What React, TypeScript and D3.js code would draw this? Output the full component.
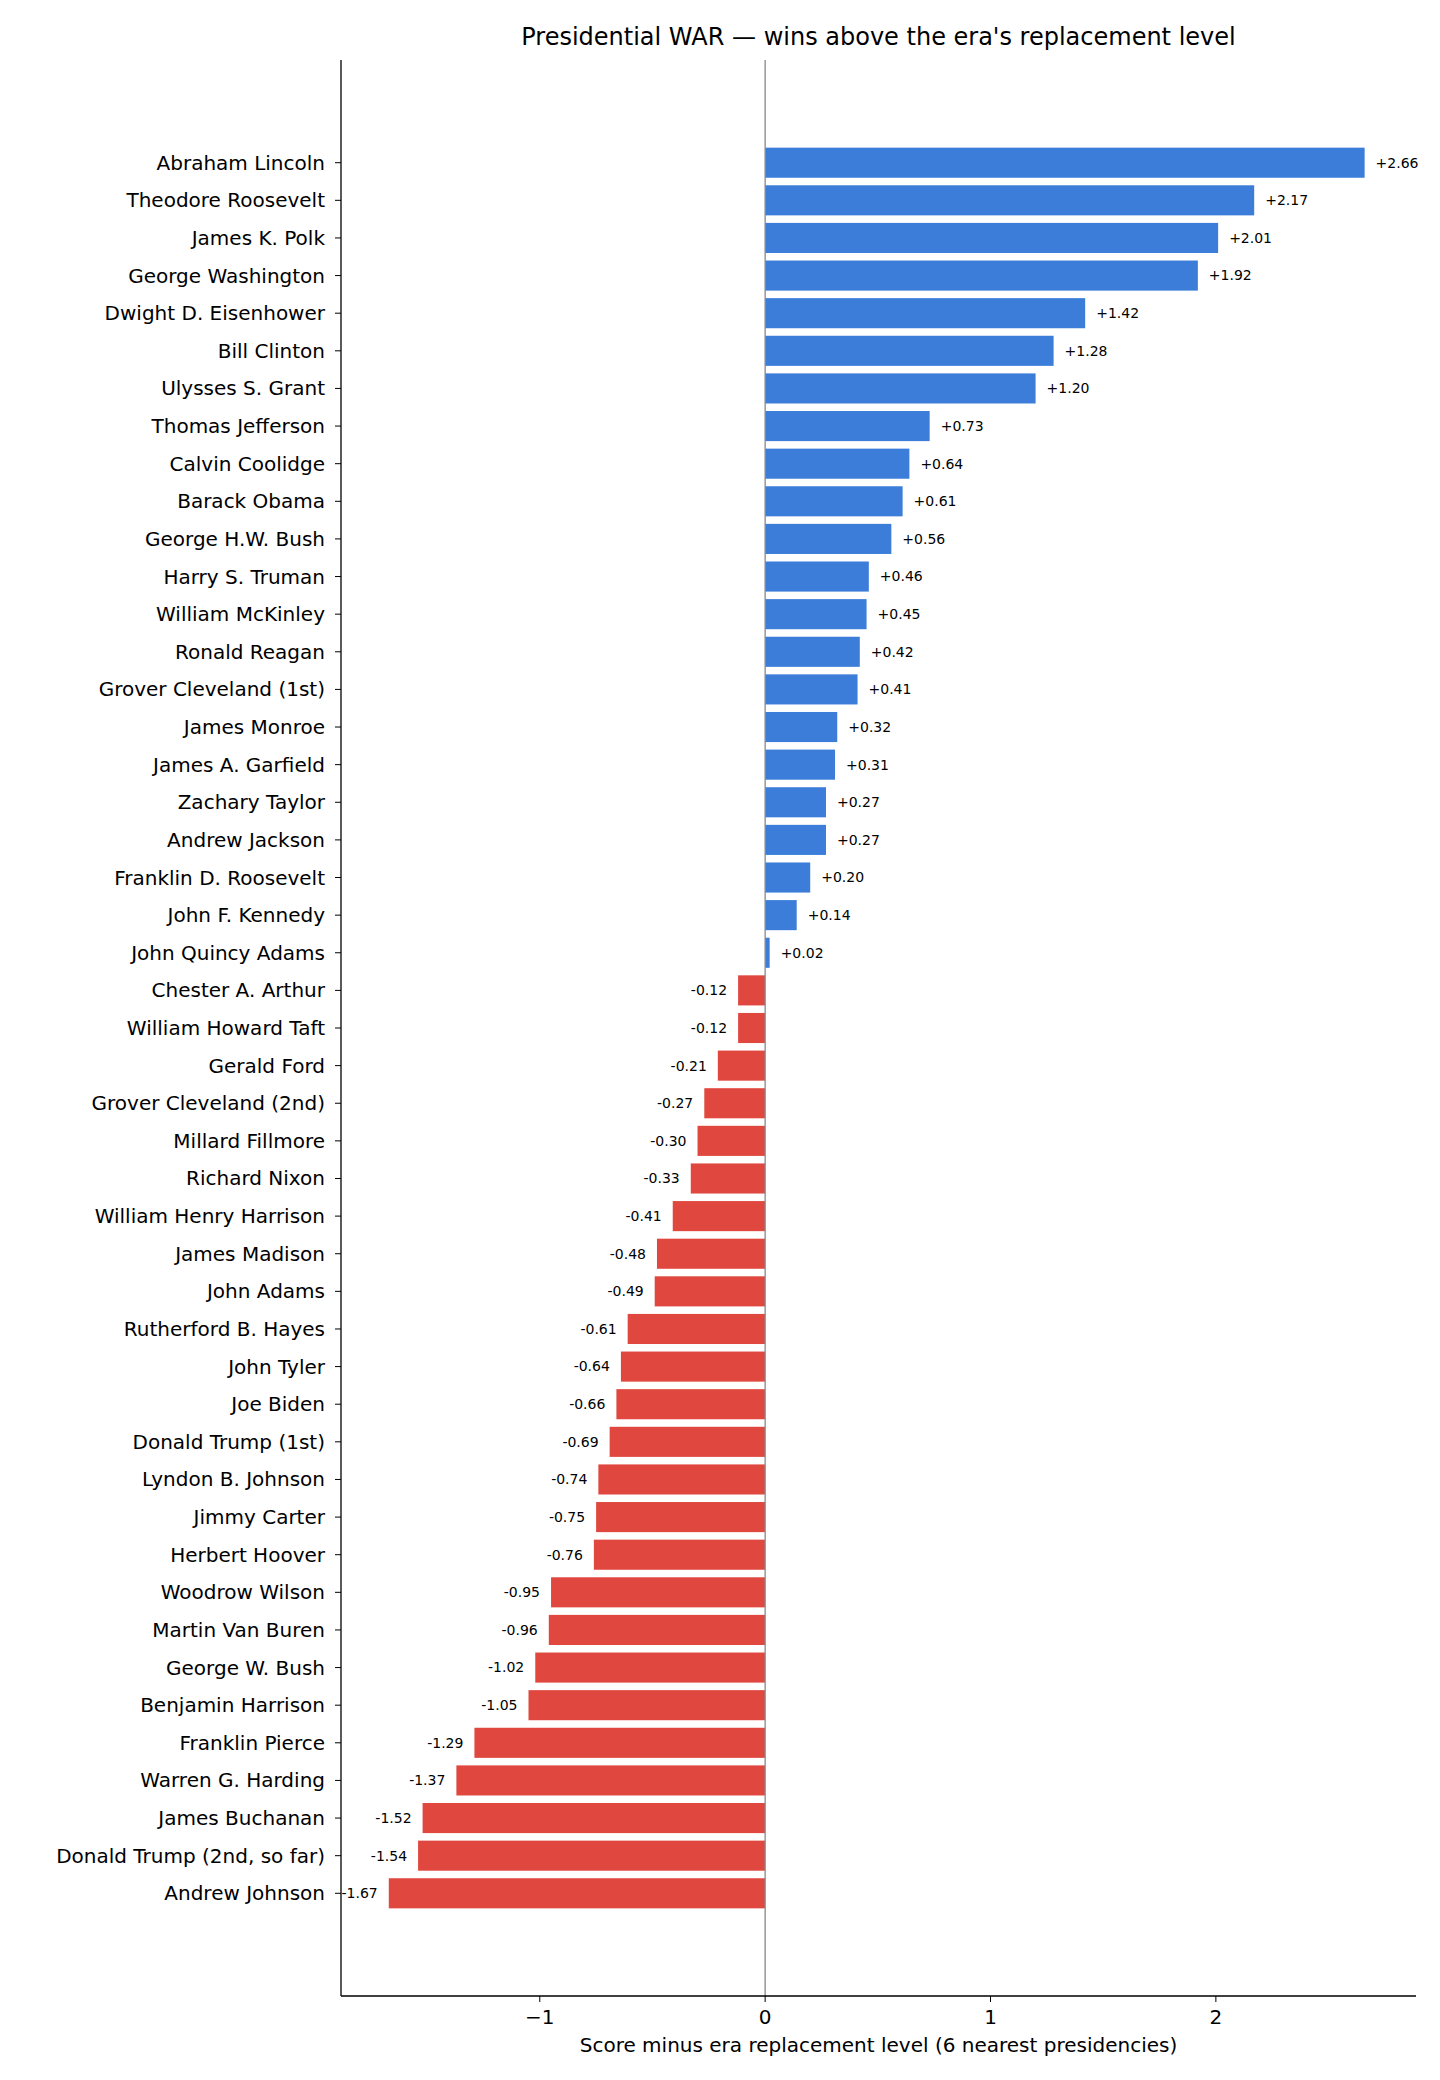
import React from "react";
import * as d3 from "d3";

const names = ["Abraham Lincoln","Theodore Roosevelt","James K. Polk","George Washington","Dwight D. Eisenhower","Bill Clinton","Ulysses S. Grant","Thomas Jefferson","Calvin Coolidge","Barack Obama","George H.W. Bush","Harry S. Truman","William McKinley","Ronald Reagan","Grover Cleveland (1st)","James Monroe","James A. Garfield","Zachary Taylor","Andrew Jackson","Franklin D. Roosevelt","John F. Kennedy","John Quincy Adams","Chester A. Arthur","William Howard Taft","Gerald Ford","Grover Cleveland (2nd)","Millard Fillmore","Richard Nixon","William Henry Harrison","James Madison","John Adams","Rutherford B. Hayes","John Tyler","Joe Biden","Donald Trump (1st)","Lyndon B. Johnson","Jimmy Carter","Herbert Hoover","Woodrow Wilson","Martin Van Buren","George W. Bush","Benjamin Harrison","Franklin Pierce","Warren G. Harding","James Buchanan","Donald Trump (2nd, so far)","Andrew Johnson"];
const values = [2.66,2.17,2.01,1.92,1.42,1.28,1.20,0.73,0.64,0.61,0.56,0.46,0.45,0.42,0.41,0.32,0.31,0.27,0.27,0.20,0.14,0.02,-0.12,-0.12,-0.21,-0.27,-0.30,-0.33,-0.41,-0.48,-0.49,-0.61,-0.64,-0.66,-0.69,-0.74,-0.75,-0.76,-0.95,-0.96,-1.02,-1.05,-1.29,-1.37,-1.52,-1.54,-1.67];
const xTicks = [-1, 0, 1, 2];

export default function App() {
  const L = 341, R = 1416, T = 60, B = 1996;
  const x = d3.scaleLinear().domain([-1.882, 2.888]).range([L, R]);
  const y = d3.scaleLinear().domain([-2.73, 48.73]).range([T, B]);
  const bh = (y(1) - y(0)) * 0.8;
  const font = "DejaVu Sans, sans-serif";
  return (
    <svg width={1440} height={2080} style={{ display: "block", margin: "-8px" }} fontFamily={font}>
      <rect width={1440} height={2080} fill="#fff" />
      <text x={(L + R) / 2} y={45} textAnchor="middle" fontSize={24}>Presidential WAR — wins above the era's replacement level</text>
      {values.map((v, i) => {
        const x0 = x(Math.min(0, v)), w = Math.abs(x(v) - x(0));
        return (
          <g key={i}>
            <rect x={x0} y={y(i) - bh / 2} width={w} height={bh} fill={v >= 0 ? "#3b7dd9" : "#e0483f"} />
            <text x={v >= 0 ? x(v) + 11 : x(v) - 11} y={y(i)} dy="0.35em" fontSize={14} textAnchor={v >= 0 ? "start" : "end"}>
              {(v >= 0 ? "+" : "") + v.toFixed(2)}
            </text>
            <line x1={L - 6} x2={L} y1={y(i)} y2={y(i)} stroke="#000" />
            <text x={L - 16} y={y(i)} dy="0.35em" fontSize={20} textAnchor="end">{names[i]}</text>
          </g>
        );
      })}
      <line x1={x(0)} x2={x(0)} y1={T} y2={B} stroke="#888" strokeWidth={1.3} />
      <line x1={L} x2={L} y1={T} y2={B} stroke="#000" strokeWidth={1.3} />
      <line x1={L} x2={R} y1={B} y2={B} stroke="#000" strokeWidth={1.3} />
      {xTicks.map(t => (
        <g key={t}>
          <line x1={x(t)} x2={x(t)} y1={B} y2={B + 6} stroke="#000" />
          <text x={x(t)} y={B + 28} textAnchor="middle" fontSize={20}>{t < 0 ? "−" + Math.abs(t) : t}</text>
        </g>
      ))}
      <text x={(L + R) / 2} y={B + 56} textAnchor="middle" fontSize={20}>Score minus era replacement level (6 nearest presidencies)</text>
    </svg>
  );
}
